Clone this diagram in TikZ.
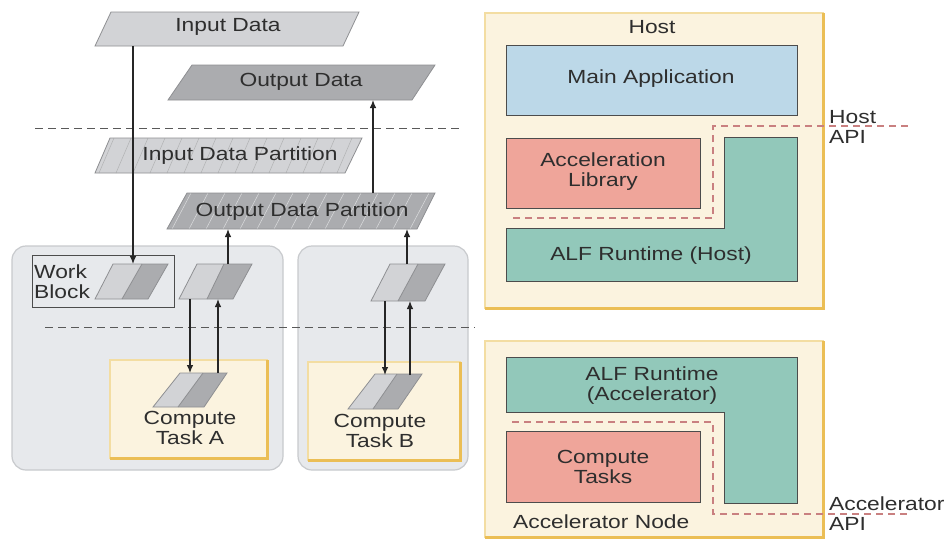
\documentclass[tikz,border=0pt]{standalone}
\usepackage{fontspec}
\setmainfont{Liberation Sans}[FakeStretch=1.2]
\usetikzlibrary{arrows.meta}
\definecolor{txt}{HTML}{2E2E2E}
\definecolor{lgray}{HTML}{D2D3D6}
\definecolor{dgray}{HTML}{ABACAF}
\definecolor{pborder}{HTML}{8E8F92}
\definecolor{panel}{HTML}{E7E9EC}
\definecolor{panelb}{HTML}{C8CACD}
\definecolor{cream}{HTML}{FBF3DF}
\definecolor{creamb}{HTML}{F3DDA2}
\definecolor{gold}{HTML}{EBBE55}
\definecolor{blue}{HTML}{BCD8E8}
\definecolor{salmon}{HTML}{EFA59A}
\definecolor{teal}{HTML}{92C8BA}
\definecolor{apired}{HTML}{C98080}
\tikzset{
  lbl/.style={text=txt, font=\fontsize{19}{20}\selectfont, inner sep=0pt, align=center},
  pg/.style={draw=pborder, line width=0.8pt},
  hatchline/.style={draw=pborder!70, line width=0.5pt},
  panelbox/.style={fill=panel, draw=panelb, line width=1.2pt, rounded corners=14pt},
  layer/.style={draw=black!70, line width=1pt},
  apiline/.style={draw=apired, line width=1.2pt, dash pattern=on 7pt off 5pt},
  sepline/.style={draw=black!65, line width=1pt, dash pattern=on 8pt off 5pt},
  arr/.style={-{Latex[length=8pt,width=6.5pt]}, line width=1.1pt, draw=black!85},
}
% cream box with a gold edge on the right and bottom
\newcommand\creambox[4]{%
  \fill[cream] (#1,#2) rectangle (#3,#4);
  \draw[creamb, line width=1.2pt] (#1,#2) rectangle (#3,#4);
  \draw[gold, line width=3pt] (#3,#2) -- (#3,#4) -- (#1,#4);
}
% two-tone work block parallelogram: top-left, top-mid, top-right, top y, bottom-left, bottom-mid, bottom-right, bottom y
\newcommand\wblock[8]{%
  \fill[lgray] (#5,#8) -- (#6,#8) -- (#2,#4) -- (#1,#4) -- cycle;
  \fill[dgray] (#6,#8) -- (#7,#8) -- (#3,#4) -- (#2,#4) -- cycle;
  \draw[pg] (#5,#8) -- (#7,#8) -- (#3,#4) -- (#1,#4) -- cycle;
  \draw[pg] (#6,#8) -- (#2,#4);
}
\begin{document}
\begin{tikzpicture}[x=1pt,y=-1pt]
\useasboundingbox[fill=white] (0,0) rectangle (949,539);

% ---------- left: data flow ----------
\draw[panelbox] (12,246) rectangle (283,470);
\draw[panelbox] (298,246) rectangle (468,470);

% input and output data
\fill[lgray] (95,46) -- (343,46) -- (359,12) -- (111,12) -- cycle;
\draw[pg] (95,46) -- (343,46) -- (359,12) -- (111,12) -- cycle;
\node[lbl] (indata) at (228,27) {Input Data};
\fill[dgray] (168,100) -- (412,100) -- (435,65) -- (192,65) -- cycle;
\draw[pg] (168,100) -- (412,100) -- (435,65) -- (192,65) -- cycle;
\node[lbl] (outdata) at (301,82) {Output Data};

\draw[sepline] (35,128) -- (463,128);

% partitions
\begin{scope}
  \clip (95,173) -- (345,173) -- (362,138) -- (110,138) -- cycle;
  \fill[lgray] (90,130) rectangle (370,180);
  \foreach \i in {0,...,16} \draw[hatchline] ({99+17*\i},173) -- ++(15,-35);
\end{scope}
\draw[pg] (95,173) -- (345,173) -- (362,138) -- (110,138) -- cycle;
\node[lbl] (inpart) at (240,156) {Input Data Partition};

\begin{scope}
  \clip (167,229) -- (417,229) -- (435,193) -- (187,193) -- cycle;
  \fill[dgray] (160,185) rectangle (440,235);
  \foreach \i in {0,...,16} \draw[hatchline, draw=lgray!80] ({172+17*\i},229) -- ++(19,-36);
\end{scope}
\draw[pg] (167,229) -- (417,229) -- (435,193) -- (187,193) -- cycle;
\node[lbl] (outpart) at (302,212) {Output Data Partition};

% work block
\draw[black!70, line width=1pt] (32,255) rectangle (174,307);
\node[lbl, align=left, anchor=west] (wb) at (34,282) {Work\\Block};
\wblock{113}{142}{168}{264}{95}{122}{148}{299}
\wblock{197}{224}{252}{264}{179}{207}{233}{299}
\wblock{390}{418}{445}{264}{371}{398}{425}{301}

\draw[sepline] (45,327) -- (475,327);

% compute tasks
\creambox{110}{360}{267}{458}
\creambox{308}{362}{460}{460}
\wblock{180}{203}{227}{373}{153}{178}{204}{407}
\wblock{375}{397}{422}{374}{348}{373}{398}{409}
\node[lbl] (cta) at (190,428) {Compute\\Task A};
\node[lbl] (ctb) at (380,431) {Compute\\Task B};

% connector end points
\coordinate (inB)  at (133,46);
\coordinate (wbT)  at (133,264);
\coordinate (outB) at (373,100);
\coordinate (opT)  at (373,193);
\coordinate (opB1) at (228,229);
\coordinate (opB2) at (407,229);
\coordinate (paT)  at (228,264);
\coordinate (pbT)  at (407,264);
\coordinate (paB1) at (190,299);
\coordinate (paB2) at (218,299);
\coordinate (caT1) at (190,373);
\coordinate (caT2) at (218,373);
\coordinate (pbB1) at (385,301);
\coordinate (pbB2) at (410,301);
\coordinate (cbT1) at (385,375);
\coordinate (cbT2) at (410,375);

\draw[arr] (inB) -- (wbT);
\draw[arr] (opT) -- (outB);
\draw[arr] (paT) -- (opB1);
\draw[arr] (pbT) -- (opB2);
\draw[arr] (paB1) -- (caT1);
\draw[arr] (caT2) -- (paB2);
\draw[arr] (pbB1) -- (cbT1);
\draw[arr] (cbT2) -- (pbB2);

% ---------- right: host ----------
\creambox{485}{13}{823}{308}
\node[lbl] (host) at (652,27) {Host};
\draw[layer, fill=blue] (506,45) rectangle (797,115);
\node[lbl] (mainapp) at (651,79) {Main Application};
\draw[layer, fill=salmon] (506,138) rectangle (700,208);
\node[lbl] (acclib) at (603,172) {Acceleration\\Library};
\draw[layer, fill=teal] (506,228) -- (724,228) -- (724,137) -- (797,137) -- (797,281) -- (506,281) -- cycle;
\node[lbl] (alfhost) at (651,256) {ALF Runtime (Host)};
\draw[apiline] (513,218) -- (713,218) -- (713,126) -- (910,126);
\node[lbl, anchor=west, align=left] (hostapi) at (829,127) {Host\\API};

% ---------- right: accelerator node ----------
\creambox{485}{341}{823}{537}
\draw[layer, fill=teal] (506,357) -- (797,357) -- (797,503) -- (724,503) -- (724,412) -- (506,412) -- cycle;
\node[lbl] (alfacc) at (652,386) {ALF Runtime\\(Accelerator)};
\draw[layer, fill=salmon] (506,431) rectangle (700,502);
\node[lbl] (ctasks) at (603,467) {Compute\\Tasks};
\draw[apiline] (512,422) -- (713,422) -- (713,514) -- (910,514);
\node[lbl, anchor=west, align=left] (accapi) at (829,514) {Accelerator\\API};
\node[lbl, anchor=west] (accnode) at (513,522) {Accelerator Node};
\end{tikzpicture}
\end{document}
